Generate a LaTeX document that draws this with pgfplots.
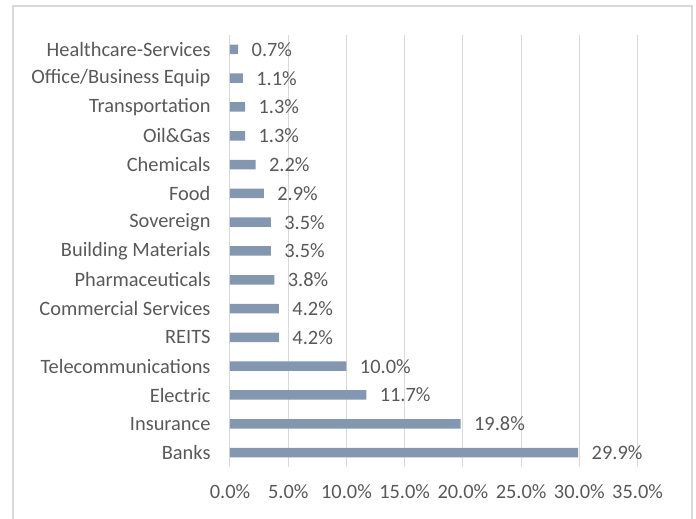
\documentclass[border=0pt]{standalone}
\usepackage{fontspec}
\setmainfont{Carlito}
\usepackage{pgfplots}
\pgfplotsset{compat=1.18}
\definecolor{barcol}{HTML}{8497B0}
\definecolor{txtcol}{HTML}{595959}
\definecolor{gridcol}{HTML}{D9D9D9}
\begin{document}
\begin{tikzpicture}[x=1bp,y=1bp]
\useasboundingbox (-230,-52) rectangle (466,467);
\draw[gridcol, line width=1.3bp] (-217,-70) rectangle (462,461);
\begin{axis}[
  at={(0,0)}, anchor=south west,
  scale only axis, width=407.6bp, height=432bp,
  xbar, bar width=9.5bp,
  xmin=0, xmax=35, ymin=-0.5, ymax=14.5,
  xtick={0,5,...,35},
  ytick={0,...,14},
  yticklabels={Banks,Insurance,Electric,Telecommunications,REITS,Commercial Services,Pharmaceuticals,Building Materials,Sovereign,Food,Chemicals,Oil\&Gas,Transportation,Office/Business Equip,Healthcare-Services},
  xticklabel={\pgfmathprintnumber[fixed,fixed zerofill,precision=1,assume math mode=true]{\tick}\%},
  /pgf/number format/assume math mode=true,
  major tick length=0pt,
  axis x line*=bottom, axis y line*=left,
  x axis line style={draw=none},
  y axis line style={draw=gridcol, line width=1bp, -},
  xmajorgrids, grid style={gridcol, line width=1bp},
  font=\fontsize{20.4bp}{24bp}\selectfont,
  tick label style={text=txtcol},
  xticklabel style={yshift=-14bp},
  yticklabel style={xshift=-16bp},
  nodes near coords={\pgfmathprintnumber[fixed,fixed zerofill,precision=1,assume math mode=true]{\pgfplotspointmeta}\%},
  nodes near coords style={text=txtcol, anchor=west, xshift=10bp},
  every node near coord/.append style={font=\fontsize{20.4bp}{24bp}\selectfont},
]
\addplot[fill=barcol, draw=none] coordinates {
(29.9,0) (19.8,1) (11.7,2) (10.0,3) (4.2,4) (4.2,5) (3.8,6) (3.5,7) (3.5,8) (2.9,9) (2.2,10) (1.3,11) (1.3,12) (1.1,13) (0.7,14)
};
\end{axis}
\end{tikzpicture}
\end{document}
